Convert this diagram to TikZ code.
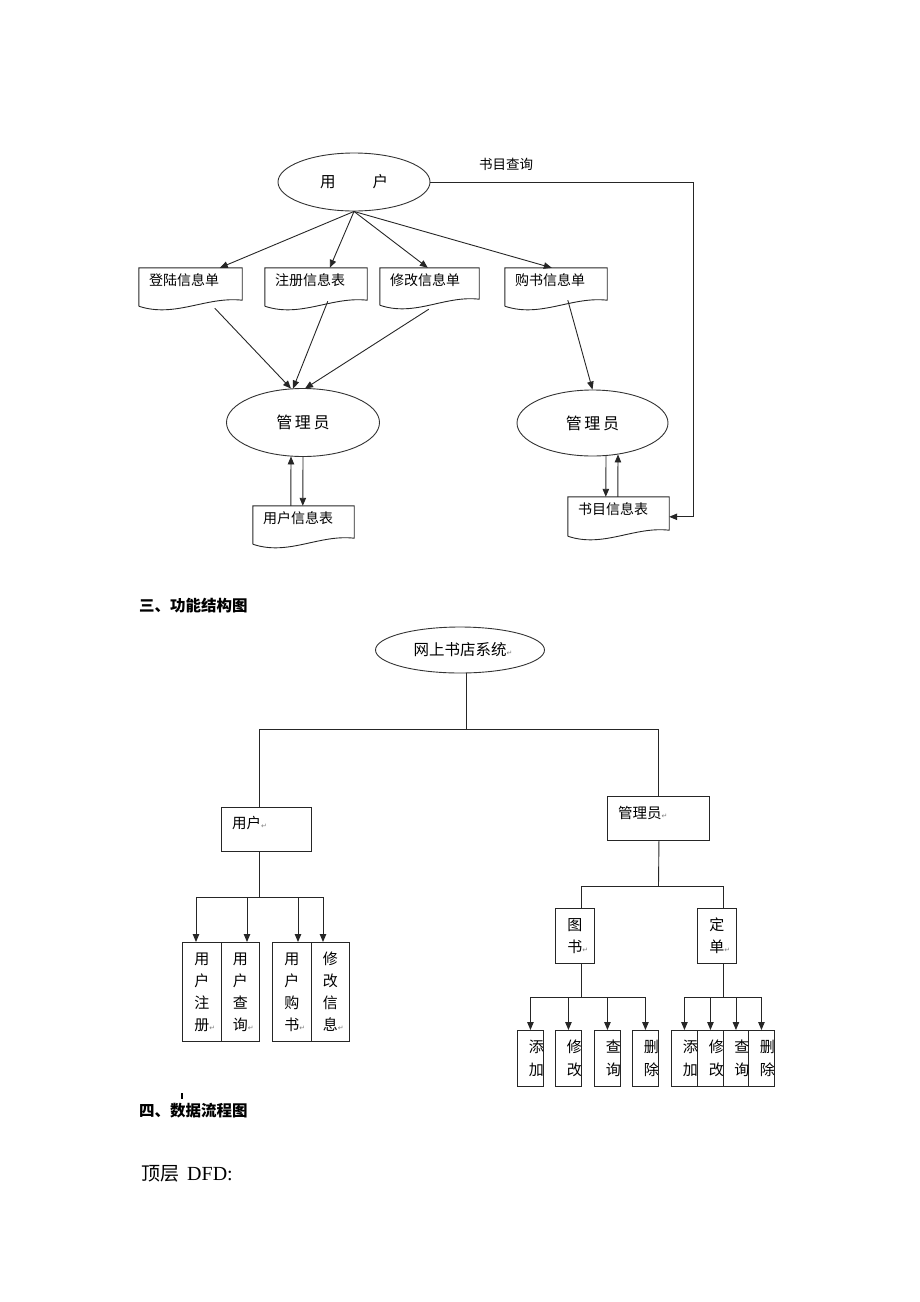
\documentclass[tikz,border=0pt]{standalone}
\usepackage{fontspec}
\newfontfamily\cjk{Noto Sans CJK SC}
\newfontfamily\symf{DejaVu Sans}
\newfontfamily\tnr{Liberation Serif}
\usetikzlibrary{arrows.meta,calc,fit,shapes.geometric}
\newcommand\ret{\rlap{\symf\fontsize{7}{7}\selectfont\color{gray}↵}}
\newcommand\docnode[6]{%
  \node[fit={(#2,#3) (#4,#5)}, inner sep=0pt, draw=none] (#1) {};
  \draw[ln] (#1.south west) -- (#1.north west) -- (#1.north east) -- ([yshift=6pt]#1.south east)
    .. controls ($(#1.south west)!0.65!(#1.south east)+(0,-10)$) and ($(#1.south west)!0.35!(#1.south east)+(0,12)$) .. (#1.south west);
  \node[dtext, anchor=west] at ([shift={(10,12)}]#1.north west) {#6};}
\newcommand\cliptext[2]{%
  \begin{scope}
    \clip (#1.north west) rectangle (#1.south east);
    \node[vtwo] at ([xshift=6pt]#1.center) {#2};
  \end{scope}}
\begin{document}
\begin{tikzpicture}[x=1pt,y=-1pt,
  ln/.style={draw=black!85, line width=0.9pt},
  arr/.style={ln, -{Triangle[length=8pt,width=6.5pt]}},
  ell/.style={ellipse, draw=black!80, line width=0.9pt, inner sep=0pt},
  dtext/.style={inner sep=0pt, font=\cjk\fontsize{14}{14}\selectfont},
  head/.style={inner sep=0pt, font=\cjk\bfseries\fontsize{15.5}{15.5}\selectfont},
  box/.style={draw=black!85, line width=0.9pt, inner sep=0pt, anchor=north west, align=center},
  vbox/.style={box, font=\cjk\fontsize{15}{22}\selectfont},
  sbox/.style={box, minimum width=26, minimum height=56},
  vtwo/.style={inner sep=0pt, align=center, font=\cjk\fontsize{15}{23}\selectfont},
  btext/.style={inner sep=0pt, anchor=west, font=\cjk\fontsize{14.5}{14.5}\selectfont}]
\useasboundingbox (0,0) rectangle (920,1302);

% ---------- top data flow ----------
\node[ell, minimum width=152, minimum height=58, font=\cjk\fontsize{15.5}{15.5}\selectfont] (yh) at (354,182) {用\hspace{37pt}户};
\node[inner sep=0pt, font=\cjk\fontsize{13.5}{13.5}\selectfont] (sm) at (506,164) {书目查询};

\docnode{dA}{139}{268}{242}{306}{登陆信息单}
\docnode{dB}{265}{268}{367}{306}{注册信息表}
\docnode{dC}{380}{268}{479}{305}{修改信息单}
\docnode{dD}{505}{268}{607}{306}{购书信息单}

\node[ell, minimum width=153, minimum height=68, font=\cjk\fontsize{16}{16}\selectfont] (m1) at (303,422.5) {管\,理\,员};
\node[ell, minimum width=151, minimum height=66, font=\cjk\fontsize{16}{16}\selectfont] (m2) at (592.5,423) {管\,理\,员};

\docnode{dE}{253}{506}{354}{544}{用户信息表}
\docnode{dF}{568}{497}{669}{536}{书目信息表}

\draw[arr] (yh.south) -- ($(dA.north west)+(81,0)$);
\draw[arr] (yh.south) -- ($(dB.north west)+(65,0)$);
\draw[arr] (yh.south) -- ($(dC.north west)+(48,0)$);
\draw[arr] (yh.south) -- ($(dD.north west)+(47,0)$);

\draw[arr] ($(dA.south west)+(76,2)$) -- ($(m1.north)+(-12,0.5)$);
\draw[arr] ($(dB.south west)+(63,-5)$) -- ($(m1.north)+(-10,0.5)$);
\draw[arr] ($(dC.south west)+(49,4)$) -- ($(m1.north)+(2,0.5)$);
\draw[arr] ($(dD.south west)+(63,-6)$) -- (m2.north);

\draw[arr] ($(dE.north west)+(38,0)$) -- ($(m1.south)+(-12,-0.5)$);
\draw[arr] ($(m1.south)+(0,0)$) -- ($(dE.north west)+(50,0)$);
\draw[arr] ($(m2.south)+(13.5,-0.5)$) -- ($(dF.north west)+(38,0)$);
\draw[arr] ($(dF.north west)+(50,0)$) -- ($(m2.south)+(25.5,-2)$);

\coordinate (qc) at (693,182);
\draw[arr] (yh.east) -- (qc) |- ($(dF.north east)+(0,20)$);

% ---------- function structure ----------
\node[head, anchor=west] (h3) at (139,606) {三、功能结构图};
\node[ell, minimum width=169, minimum height=46, font=\cjk\fontsize{15.5}{15.5}\selectfont] (sys) at (460,650) {网上书店系统\ret};

\node[box, minimum width=90, minimum height=44] (uB) at (221,807) {};
\node[btext] at ([shift={(11,16)}]uB.north west) {用户\ret};
\node[box, minimum width=102, minimum height=44] (mB) at (607,796) {};
\node[btext] at ([shift={(11,17)}]mB.north west) {管理员\ret};

\coordinate (j1) at (466,729);
\draw[ln] ($(sys.south)+(6,0)$) -- (j1);
\draw[ln] ($(uB.north west)+(38,0)$) |- (j1) -| (mB.north);

% user side
\node[vbox, minimum width=39, minimum height=99] (b1) at (182,942) {用\\户\\注\\册\ret};
\node[vbox, minimum width=38, minimum height=99] (b2) at (221,942) {用\\户\\查\\询\ret};
\node[vbox, minimum width=39, minimum height=99] (b3) at (272,942) {用\\户\\购\\书\ret};
\node[vbox, minimum width=38, minimum height=99] (b4) at (311,942) {修\\改\\信\\息\ret};
\coordinate (j2) at (259,897);
\draw[ln] ($(uB.south west)+(38,0)$) -- (j2);
\draw[arr] (j2) -| ($(b1.north west)+(14,0)$);
\draw[arr] (j2) -| ($(b2.north west)+(26,0)$);
\draw[arr] (j2) -| ($(b3.north west)+(26,0)$);
\draw[arr] (j2) -| ($(b4.north west)+(12,0)$);

% admin side
\node[vbox, minimum width=39, minimum height=55] (tB) at (555,908) {图\\书\ret};
\node[vbox, minimum width=39, minimum height=55] (oB) at (697,908) {定\\单\ret};
\coordinate (j3) at (658.5,886);
\draw[ln] ($(mB.south)+(0.5,0)$) -- (j3);
\draw[ln] (j3) -| ($(tB.north west)+(26,0)$);
\draw[ln] (j3) -| ($(oB.north west)+(26,0)$);

\node[sbox] (a1) at (517,1030) {};
\node[sbox] (a2) at (555,1030) {};
\node[sbox] (a3) at (594,1030) {};
\node[sbox] (a4) at (632,1030) {};
\coordinate (j4) at (581,997);
\draw[ln] ($(tB.south west)+(26,0)$) -- (j4);
\foreach \b in {a1,a2,a3,a4} \draw[arr] (j4) -| (\b.north);
\cliptext{a1}{添\\加}
\cliptext{a2}{修\\改}
\cliptext{a3}{查\\询}
\cliptext{a4}{删\\除}

\node[sbox] (c1) at (671,1030) {};
\node[sbox] (c2) at (697,1030) {};
\node[sbox, minimum width=25] (c3) at (723,1030) {};
\node[sbox] (c4) at (748,1030) {};
\coordinate (j5) at (723,997);
\draw[ln] ($(oB.south west)+(26,0)$) -- (j5);
\foreach \b in {c1,c2,c3,c4} \draw[arr] (j5) -| (\b.north);
\cliptext{c1}{添\\加}
\cliptext{c2}{修\\改}
\cliptext{c3}{查\\询}
\cliptext{c4}{删\\除}

% ---------- bottom headings ----------
\draw[line width=1.3pt] (182,1093) -- (182,1099);
\node[head, anchor=west] (h4) at (139,1111) {四、数据流程图};
\node[inner sep=0pt, anchor=base west] (h5) at (141,1180) {\cjk\fontsize{19}{19}\selectfont 顶层\hspace{8pt}\tnr\fontsize{20}{20}\selectfont DFD:};
\end{tikzpicture}
\end{document}
